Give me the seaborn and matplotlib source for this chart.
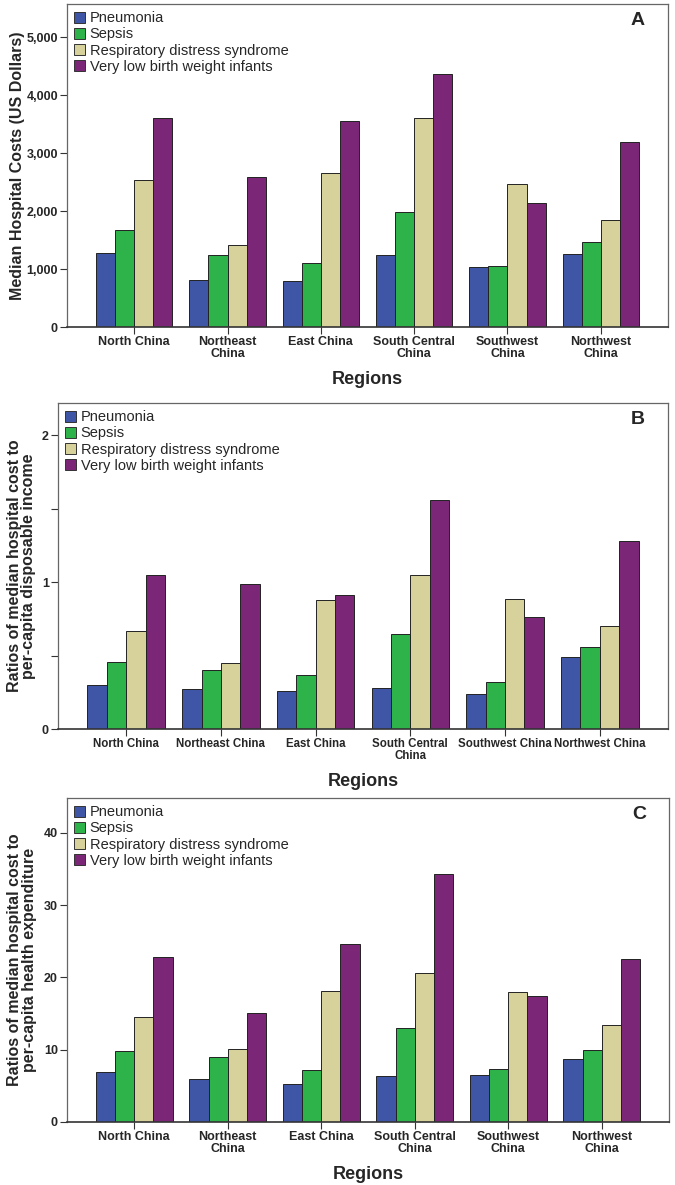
import numpy as np
import pandas as pd
import matplotlib
matplotlib.use("Agg")
import matplotlib.pyplot as plt
import seaborn as sns
from matplotlib.patches import Patch

sns.set_theme(style="white")
plt.rcParams['font.family'] = ['Liberation Sans Narrow', 'Liberation Sans', 'DejaVu Sans']

regions = ["North China", "Northeast China", "East China",
           "South Central China", "Southwest China", "Northwest China"]
diseases = ["Pneumonia", "Sepsis", "Respiratory distress syndrome",
            "Very low birth weight infants"]
colors = ["#3F55A6", "#2DB34A", "#D7D19B", "#7B2677"]

# panel A: median hospital costs (US dollars)
cost_pneumonia = [1281, 816, 799, 1241, 1034, 1253]
cost_sepsis = [1667, 1241, 1103, 1977, 1046, 1460]
cost_rds = [2529, 1408, 2661, 3598, 2471, 1850]
cost_vlbw = [3609, 2591, 3552, 4368, 2138, 3190]

# panel B: ratio to per-capita disposable income
inc_pneumonia = [0.297, 0.272, 0.259, 0.277, 0.236, 0.490]
inc_sepsis = [0.454, 0.399, 0.368, 0.645, 0.322, 0.561]
inc_rds = [0.668, 0.452, 0.881, 1.046, 0.888, 0.702]
inc_vlbw = [1.046, 0.988, 0.913, 1.557, 0.763, 1.278]

# panel C: ratio to per-capita health expenditure
exp_pneumonia = [6.97, 5.91, 5.31, 6.37, 6.55, 8.73]
exp_sepsis = [9.88, 8.96, 7.20, 13.06, 7.34, 10.00]
exp_rds = [14.58, 10.15, 18.14, 20.60, 18.00, 13.48]
exp_vlbw = [22.85, 15.10, 24.60, 34.25, 17.36, 22.48]

labels_wrapped = ["North China", "Northeast\nChina", "East China",
                  "South Central\nChina", "Southwest\nChina", "Northwest\nChina"]
labels_b = ["North China", "Northeast China", "East China",
            "South Central\nChina", "Southwest China", "Northwest China"]


def long_frame(series):
    rows = []
    for dis, vals in zip(diseases, series):
        for reg, v in zip(regions, vals):
            rows.append({"region": reg, "disease": dis, "value": v})
    return pd.DataFrame(rows)


panels = [
    dict(data=[cost_pneumonia, cost_sepsis, cost_rds, cost_vlbw],
         rect=[67 / 675, 1 - 327 / 1185, 601 / 675, 323 / 1185],
         ylim=5570, yticks=[0, 1000, 2000, 3000, 4000, 5000],
         yticklabels=["0", "1,000", "2,000", "3,000", "4,000", "5,000"],
         ylabel="Median Hospital Costs (US Dollars)", ylab_x=-0.07,
         xticklabels=labels_wrapped, xfs=9, letter="A"),
    dict(data=[inc_pneumonia, inc_sepsis, inc_rds, inc_vlbw],
         rect=[58 / 675, 1 - 729 / 1185, 610 / 675, 326 / 1185],
         ylim=2.22, yticks=[0, 0.5, 1, 1.5, 2],
         yticklabels=["0", "", "1", "", "2"],
         ylabel="Ratios of median hospital cost to\nper-capita disposable income",
         ylab_x=-0.036, xticklabels=labels_b, xfs=8.3, letter="B"),
    dict(data=[exp_pneumonia, exp_sepsis, exp_rds, exp_vlbw],
         rect=[67 / 675, 1 - 1122 / 1185, 602 / 675, 324 / 1185],
         ylim=44.8, yticks=[0, 10, 20, 30, 40],
         yticklabels=["0", "10", "20", "30", "40"],
         ylabel="Ratios of median hospital cost to\nper-capita health expenditure",
         ylab_x=-0.05, xticklabels=labels_wrapped, xfs=9, letter="C"),
]

fig = plt.figure(figsize=(6.75, 11.85), dpi=100)

for p in panels:
    ax = fig.add_axes(p["rect"])
    df = long_frame(p["data"])
    sns.barplot(data=df, x="region", y="value", hue="disease",
                order=regions, hue_order=diseases, palette=colors,
                saturation=1, width=0.82, edgecolor="#222222", linewidth=0.7,
                errorbar=None, legend=False, ax=ax)
    ax.set_xlim(-0.72, 5.72)
    ax.set_ylim(0, p["ylim"])
    ax.set_yticks(p["yticks"])
    ax.set_yticklabels(p["yticklabels"], fontweight="bold", fontsize=9)
    ax.set_xticks(range(len(regions)))
    ax.set_xticklabels(p["xticklabels"], fontweight="bold", fontsize=p["xfs"],
                       linespacing=1.0)
    ax.tick_params(axis="both", direction="out", length=5, width=0.8,
                   color="#333333", pad=1.5, bottom=True, left=True)
    for side in ["top", "right", "left"]:
        ax.spines[side].set_color("#666666")
        ax.spines[side].set_linewidth(0.9)
    ax.spines["bottom"].set_color("#333333")
    ax.spines["bottom"].set_linewidth(1.2)
    ax.set_xlabel("Regions", fontweight="bold", fontsize=13, labelpad=8)
    ax.set_ylabel(p["ylabel"], fontweight="bold", fontsize=11.5,
                  family=["Liberation Sans", "DejaVu Sans"], linespacing=0.95)
    ax.yaxis.set_label_coords(p["ylab_x"], 0.5)
    handles = [Patch(facecolor=c, edgecolor="#333333", linewidth=0.7)
               for c in colors]
    ax.legend(handles, diseases, loc="upper left", frameon=False,
              fontsize=10.5, handlelength=0.75, handleheight=0.75,
              handletextpad=0.3, labelspacing=0.15, borderaxespad=0.3,
              borderpad=0.2)
    ax.text(0.95, 0.95, p["letter"], transform=ax.transAxes,
            fontsize=14, fontweight="bold", ha="center", va="center",
            family=["Liberation Sans", "DejaVu Sans"])

fig.savefig("out.png", dpi=100)
